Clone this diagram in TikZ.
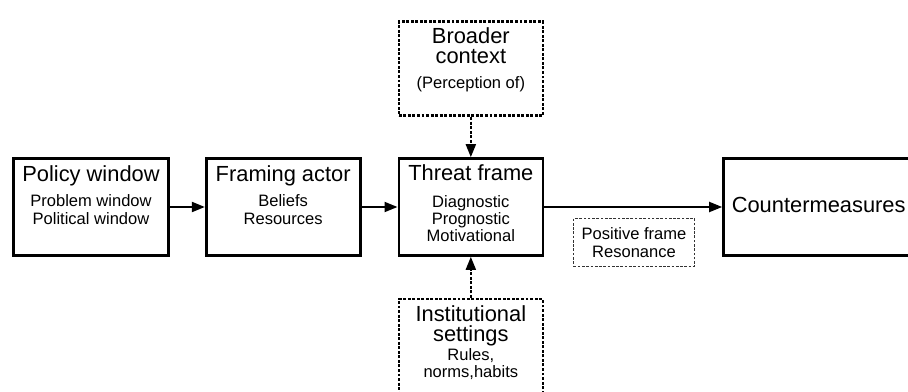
\documentclass[tikz,border=0pt]{standalone}
\usepackage{fontspec}
\setmainfont{Liberation Sans}
\usetikzlibrary{positioning,arrows.meta}

\tikzset{
  solidbox/.style={draw, line width=2pt, minimum height=72.75pt},
  dotbox/.style={draw, line width=2pt, dash pattern=on 2.2pt off 1.2pt, minimum width=108pt},
  thinbox/.style={draw=black!80, line width=0.6pt, dash pattern=on 2pt off 1.2pt},
  headtext/.style={font=\fontsize{16.4}{15}\selectfont, align=center, anchor=base, inner sep=0pt},
  itemtext/.style={font=\fontsize{12.4}{13}\selectfont, align=center, anchor=base, inner sep=0pt},
  flow/.style={-{Triangle[length=9.75pt,width=7.5pt]}, line width=1.5pt},
  dotflow/.style={flow, dash pattern=on 2.2pt off 1.2pt}
}

\begin{document}
\begin{tikzpicture}[x=0.75pt,y=-0.75pt]
  \useasboundingbox (0,0) rectangle (908,392);

  % main chain
  \node[solidbox, minimum width=116.25pt] (policy) at (91,207) {};
  \node[solidbox, minimum width=115.5pt, right=26.25pt of policy] (actor) {};
  \node[solidbox, minimum width=108pt, right=27pt of actor] (threat) {};
  \node[solidbox, minimum width=150pt, right=133.5pt of threat] (counter) {};

  % context boxes
  \node[dotbox, minimum height=70.5pt, above=30pt of threat] (broader) {};
  \node[dotbox, minimum height=75pt, below=30.75pt of threat] (institutional) {};
  \node[thinbox, minimum width=90.75pt, minimum height=36pt,
        font=\fontsize{12.4}{13.5}\selectfont, align=center] (resonance) at (634,242.5)
        {Positive frame\\Resonance};

  % texts (base = last line)
  \node[headtext] (policyhead) at ([yshift=-18pt]policy.north) {Policy window};
  \node[itemtext] (policyitems) at ([yshift=-32.25pt]policyhead.base) {Problem window\\Political window};
  \node[headtext] (actorhead) at ([yshift=-18pt]actor.north) {Framing actor};
  \node[itemtext] (actoritems) at ([yshift=-32.25pt]actorhead.base) {Beliefs\\Resources};
  \node[headtext] (threathead) at ([yshift=-17.6pt]threat.north) {Threat frame};
  \node[itemtext] (threatitems) at ([yshift=-46pt]threathead.base) {Diagnostic\\Prognostic\\Motivational};
  \node[headtext, anchor=base west] (counterhead) at ([xshift=7pt,yshift=-4.5pt]counter.west) {Countermeasures};
  \node[headtext] (broaderhead) at ([yshift=-32.25pt]broader.north) {Broader\\context};
  \node[itemtext] (broaderitems) at ([yshift=-18.75pt]broaderhead.base) {(Perception of)};
  \node[headtext] (institutionalhead) at ([yshift=-33pt]institutional.north) {Institutional\\settings};
  \node[itemtext] (institutionalitems) at ([yshift=-27pt]institutionalhead.base) {Rules,\\norms,habits};

  % arrows
  \draw[flow] (policy) -- (actor);
  \draw[flow] (actor) -- (threat);
  \draw[flow] (threat) -- (counter);
  \draw[dotflow] (broader) -- (threat);
  \draw[dotflow] (institutional) -- (threat);
\end{tikzpicture}
\end{document}
